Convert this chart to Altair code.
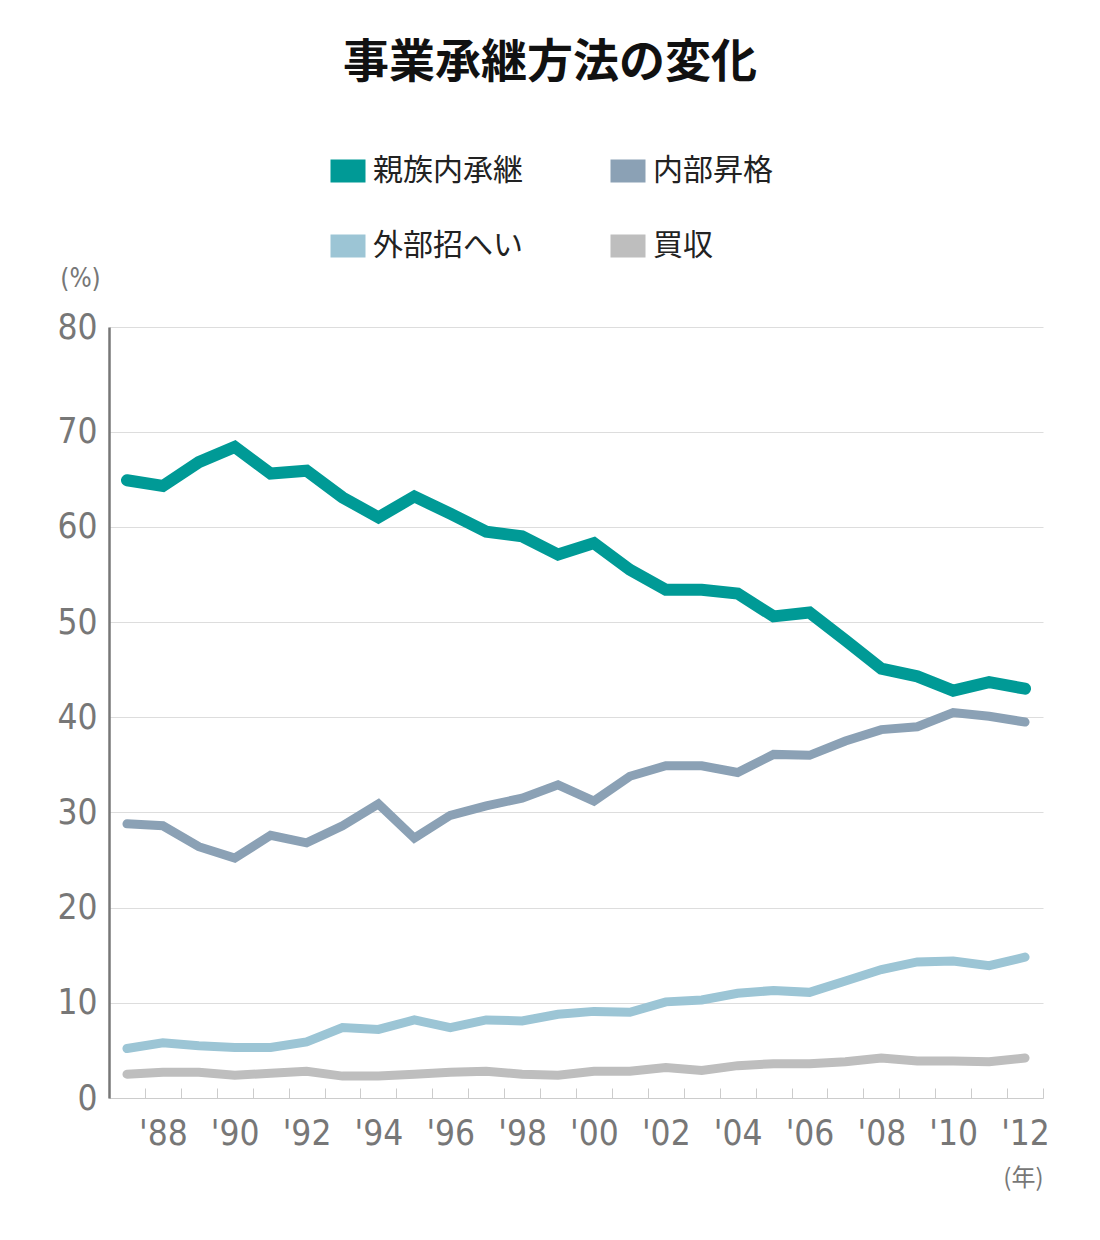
import altair as alt
import pandas as pd

years = list(range(1987, 2013))
series_names = ["親族内承継", "内部昇格", "外部招へい", "買収"]

kinzoku = [64.9, 64.3, 66.8, 68.4, 65.6, 65.9, 63.1, 61.0, 63.2, 61.4, 59.5, 59.0, 57.1,
           58.3, 55.5, 53.4, 53.4, 53.0, 50.6, 51.0, 48.1, 45.1, 44.3, 42.8, 43.7, 43.0]
naibu = [28.8, 28.6, 26.4, 25.2, 27.6, 26.8, 28.6, 30.9, 27.3, 29.7, 30.7, 31.5, 32.9,
         31.2, 33.8, 34.9, 34.9, 34.2, 36.1, 36.0, 37.5, 38.7, 39.0, 40.5, 40.1, 39.5]
gaibu = [5.2, 5.8, 5.5, 5.3, 5.3, 5.9, 7.4, 7.2, 8.2, 7.4, 8.2, 8.1, 8.8,
         9.1, 9.0, 10.1, 10.3, 11.0, 11.3, 11.1, 12.3, 13.5, 14.3, 14.4, 13.9, 14.8]
baishu = [2.5, 2.7, 2.7, 2.4, 2.6, 2.8, 2.3, 2.3, 2.5, 2.7, 2.8, 2.5, 2.4,
          2.8, 2.8, 3.2, 2.9, 3.4, 3.6, 3.6, 3.8, 4.2, 3.9, 3.9, 3.8, 4.2]

colors = ["#009a96", "#8ba1b5", "#9cc5d5", "#bebebe"]
line_widths = [12, 9, 9, 9]

y_ticks = [0, 10, 20, 30, 40, 50, 60, 70, 81]
x_label_years = list(range(1988, 2013, 2))
x_tick_marks = [y + 0.5 for y in range(1987, 2013)]

rows = []
for name, vals, w in zip(series_names, [kinzoku, naibu, gaibu, baishu], line_widths):
    for yr, v in zip(years, vals):
        rows.append({"series": name, "year": yr, "value": v, "w": w})
df = pd.DataFrame(rows)

W, H = 934, 771
NUM_FONT = "DejaVu Sans Condensed, Roboto, sans-serif"
JP_FONT = "Noto Sans CJK JP"

x_scale = alt.Scale(domain=[1986.5, 2012.5], nice=False, zero=False)
y_scale = alt.Scale(domain=[0, 81], nice=False)

lines = alt.Chart(df).mark_line(strokeCap="round", strokeJoin="miter").encode(
    x=alt.X("year:Q", scale=x_scale,
            axis=alt.Axis(values=x_label_years, ticks=False, grid=False,
                          domainColor="#cccccc", domainWidth=1,
                          labelExpr="\"'\" + substring(toString(datum.value), 2)",
                          labelFont=NUM_FONT, labelFontSize=35, labelColor="#777777",
                          labelFontWeight=300,
                          labelPadding=18, labelFlush=False, labelOverlap=False,
                          title="(年)", titleFont=JP_FONT, titleFontSize=24,
                          titleFontWeight="normal", titleColor="#777777",
                          titleX=W, titleY=80, titleAlign="right",
                          titleBaseline="middle")),
    y=alt.Y("value:Q", scale=y_scale,
            axis=alt.Axis(values=y_ticks, ticks=False, grid=True, gridColor="#dddddd",
                          gridWidth=1, domainColor="#777777", domainWidth=2.5,
                          labelExpr="datum.value == 81 ? '80' : datum.label",
                          labelFont=NUM_FONT, labelFontSize=35, labelColor="#777777",
                          labelFontWeight=300,
                          labelPadding=12, labelBaseline="middle",
                          title="(%)", titleAngle=0, titleX=-29, titleY=-49,
                          titleAlign="center", titleBaseline="middle",
                          titleFont=NUM_FONT, titleFontSize=26,
                          titleFontWeight=300, titleColor="#777777")),
    color=alt.Color("series:N",
                    scale=alt.Scale(domain=series_names, range=colors),
                    legend=alt.Legend(title=None, orient="none", legendX=210, legendY=-185,
                                      direction="horizontal",
                                      columns=2, columnPadding=41,
                                      rowPadding={"expr": "-27"},
                                      symbolType="stroke", symbolSize=1225,
                                      symbolStrokeWidth=23,
                                      labelFont=JP_FONT, labelFontSize=30,
                                      labelColor="#222222", labelOffset={"expr": "-4"},
                                      labelLimit=400)),
    strokeWidth=alt.StrokeWidth("w:Q", scale=None, legend=None),
    detail="series:N",
)

ticks_layer = alt.Chart(df).mark_point(opacity=0).encode(
    x=alt.X("year:Q", scale=x_scale,
            axis=alt.Axis(orient="top", offset=-H, values=x_tick_marks, labels=False,
                          domain=False, ticks=True, tickColor="#cccccc", tickSize=10,
                          tickWidth=1, grid=False, title=None)),
)

chart = alt.layer(lines, ticks_layer).resolve_axis(x="independent").properties(
    width=W, height=H,
    autosize="none",
    padding={"left": 109, "top": 327, "right": 57, "bottom": 142},
    title=alt.TitleParams("事業承継方法の変化", font=JP_FONT, fontSize=46,
                          fontWeight="bold", color="#111111", anchor="middle",
                          dx=-26, offset=55),
).configure(background="white", view=alt.ViewConfig(stroke="transparent"))

chart.save("out.html", embed_options={"renderer": "svg", "actions": False})
